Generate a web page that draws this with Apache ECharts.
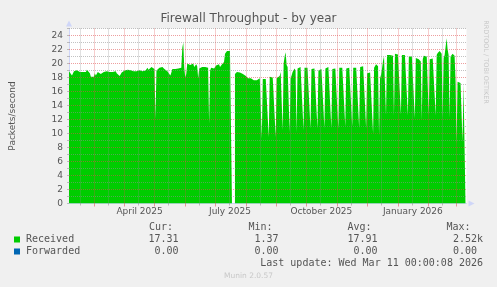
<!DOCTYPE html>
<html>
<head>
<meta charset="utf-8">
<script src="https://cdn.jsdelivr.net/npm/echarts@6/dist/echarts.min.js"></script>
<style>
html,body{margin:0;padding:0;background:#f0f0f0;}
#chart{width:497px;height:287px;}
</style>
</head>
<body>
<div id="chart"></div>
<script>
// ---- data ----
const ORIGIN = '2025-02-04';           // first day shown (x index 0)
const DAYS_SHOWN = 400;
// Received packets/second, one value per day from ORIGIN
const received = [
18.9,18.9,18.9,18.3,18.4,18.9,18.8,18.9,19.05,18.95,
19.05,18.8,18.7,18.9,18.8,18.9,19.0,18.8,19.1,19.2,
18.9,18.6,18.1,18.3,17.9,18.1,18.6,18.3,18.4,18.8,
18.9,18.7,18.5,18.6,18.7,18.8,18.9,18.7,18.9,19.0,
18.9,18.8,18.7,18.6,18.8,18.9,19.0,18.9,18.6,18.5,
18.7,18.2,18.3,18.7,18.9,18.9,19.0,19.05,19.05,19.1,
19.2,19.2,19.05,18.9,19.0,18.9,19.0,18.9,18.9,19.0,
19.1,19.05,19.2,19.2,18.9,18.9,18.9,19.0,19.1,19.4,
19.1,19.2,19.2,19.5,19.6,19.4,19.2,12.1,19.0,19.05,
19.05,19.4,19.4,19.4,19.5,19.5,19.2,19.05,19.05,18.9,
18.8,18.8,18.3,18.7,19.2,19.2,19.2,19.2,19.3,19.3,
19.3,19.4,19.4,19.4,22.2,23.0,19.4,18.0,18.5,20.0,
20.0,19.8,19.8,20.0,20.0,20.0,19.5,19.5,19.9,19.6,
17.9,19.3,19.5,19.5,19.5,19.6,19.5,19.5,19.4,19.4,
19.4,11.4,19.0,19.4,19.4,19.4,19.3,19.5,19.7,19.7,
19.9,19.9,19.5,19.5,19.9,19.9,20.2,21.4,21.6,21.8,
21.8,21.7,21.8,21.9,21.9,null,null,18.5,18.6,18.8,
18.9,18.9,18.7,18.6,18.6,18.5,18.3,18.3,18.2,18.0,
17.9,17.9,18.0,17.9,18.1,17.8,17.6,17.7,17.6,17.6,
17.7,17.6,17.9,17.9,9.3,17.8,17.9,17.9,17.8,17.9,
17.9,9.5,18.1,18.1,18.1,18.0,18.1,18.0,9.5,17.9,
17.9,17.9,18.2,18.8,18.8,10.5,20.0,21.0,21.6,19.8,
19.5,19.5,10.2,17.9,18.3,18.8,19.0,19.3,19.0,10.2,
19.3,19.4,19.5,19.5,19.4,19.4,10.5,19.4,19.5,19.5,
19.4,19.4,19.3,10.7,19.2,19.2,19.2,19.3,19.2,19.1,
10.7,19.0,19.1,19.1,19.2,19.1,19.0,10.8,19.3,19.4,
19.5,19.5,19.4,19.4,10.8,19.2,19.4,19.4,19.3,19.3,
19.2,10.7,19.4,19.5,19.5,19.4,19.2,19.3,11.0,19.3,
19.3,19.4,19.4,19.3,19.3,11.0,19.4,19.4,19.5,19.4,
19.4,19.3,10.8,19.5,19.7,19.7,19.6,19.5,19.4,10.8,
18.6,18.8,18.8,18.7,18.7,18.6,10.0,19.4,19.6,19.9,
20.0,19.6,9.8,17.9,18.4,19.3,20.4,21.0,21.0,12.6,
21.2,21.2,21.3,21.2,21.1,21.1,21.1,12.6,21.4,21.4,
21.5,21.3,21.2,21.2,12.7,21.2,21.3,21.2,21.2,21.1,
21.1,12.6,21.0,21.0,21.1,21.0,20.9,20.8,12.2,20.8,
21.0,20.8,20.6,20.5,20.3,12.0,20.6,21.1,21.1,21.0,
21.0,20.9,12.6,20.6,20.7,20.8,20.7,20.6,20.6,12.6,
21.2,21.5,21.6,21.8,21.7,21.4,12.2,20.8,21.2,21.3,
23.6,22.0,21.2,12.3,21.0,21.2,21.4,21.3,21.1,17.5,
8.6,17.4,17.4,17.3,17.2,17.2,8.8,17.1,17.2,17.3
];
// Forwarded packets/second (all zero)
const forwardedDays = [0, 399];
const forwardedValues = [0, 0];

const monthStarts = ['2025-03-01','2025-04-01','2025-05-01','2025-06-01','2025-07-01','2025-08-01',
  '2025-09-01','2025-10-01','2025-11-01','2025-12-01','2026-01-01','2026-02-01','2026-03-01'];
const midMonths = ['2025-02-15','2025-03-15','2025-04-15','2025-05-15','2025-06-15','2025-07-15','2025-08-15',
  '2025-09-15','2025-10-15','2025-11-15','2025-12-15','2026-01-15','2026-02-15'];
const xLabelDates = ['2025-04-16','2025-07-16','2025-10-16','2026-01-16'];
const xLabelTexts = ['April 2025','July 2025','October 2025','January 2026'];

const yMax = 25;
const yMajorLines = [2,4,6,8,10,12,14,16,18,20,22,24];
const yMinorLines = [1,3,5,7,9,11,13,15,17,19,21,23,25];

const titleText = 'Firewall Throughput - by year';
const yAxisTitle = 'Packets/second';
const statHeaders = ['Cur:','Min:','Avg:','Max:'];
const receivedStats = ['17.31','1.37','17.91','2.52k'];
const forwardedStats = ['0.00','0.00','0.00','0.00 '];
const lastUpdate = 'Last update: Wed Mar 11 00:00:08 2026';
const footer = 'Munin 2.0.57';
const sideText = 'RRDTOOL / TOBI OETIKER';

// ---- helpers ----
function dayIndex(s) {
  const p = s.split('-').map(Number), o = ORIGIN.split('-').map(Number);
  return Math.round((Date.UTC(p[0], p[1]-1, p[2]) - Date.UTC(o[0], o[1]-1, o[2])) / 86400000);
}
const monthDays = monthStarts.map(dayIndex);
const midDays = midMonths.map(dayIndex);
const labelDays = xLabelDates.map(dayIndex);
const labelMap = {};
labelDays.forEach((d, i) => { labelMap[d] = xLabelTexts[i]; });

const TXT = '#555';
const MAJOR = 'rgba(222,79,79,0.55)';
const MINOR = 'rgba(143,143,143,0.55)';
const AXIS = '#cfd6f8';

const gridMarks = []
  .concat(midDays.map(d => ({ xAxis: d, lineStyle: { color: MINOR } })))
  .concat(yMinorLines.map(v => ({ yAxis: v, lineStyle: { color: MINOR } })))
  .concat(monthDays.map(d => ({ xAxis: d, lineStyle: { color: MAJOR } })))
  .concat(yMajorLines.map(v => ({ yAxis: v, lineStyle: { color: MAJOR } })));

const colX = [173, 272.5, 371.5, 470.5];
const valX = [178.5, 278.5, 377.5, 483];
const graphics = [];
statHeaders.forEach((t, i) => graphics.push({ type: 'text', x: colX[i], y: 227,
  style: { text: t, font: '10px "DejaVu Sans Mono"', fill: TXT, align: 'right', verticalAlign: 'middle' } }));
receivedStats.forEach((t, i) => graphics.push({ type: 'text', x: valX[i], y: 239.5,
  style: { text: t, font: '10px "DejaVu Sans Mono"', fill: TXT, align: 'right', verticalAlign: 'middle' } }));
forwardedStats.forEach((t, i) => graphics.push({ type: 'text', x: valX[i], y: 251.5,
  style: { text: t, font: '10px "DejaVu Sans Mono"', fill: TXT, align: 'right', verticalAlign: 'middle' } }));
graphics.push({ type: 'text', x: 483, y: 263.3,
  style: { text: lastUpdate, font: '10px "DejaVu Sans Mono"', fill: TXT, align: 'right', verticalAlign: 'middle' } });
graphics.push({ type: 'text', x: 248.5, y: 276,
  style: { text: footer, font: '7.5px "DejaVu Sans"', fill: '#c8c8c8', align: 'center', verticalAlign: 'middle' } });
graphics.push({ type: 'text', x: 486, y: 62, rotation: -Math.PI / 2,
  style: { text: sideText, font: '6.5px "DejaVu Sans"', fill: '#c8c8c8', align: 'center', verticalAlign: 'middle' } });

const chart = echarts.init(document.getElementById('chart'), null, { renderer: 'canvas' });
chart.setOption({
  animation: false,
  backgroundColor: '#f0f0f0',
  title: {
    text: titleText, left: 'center', top: 13, padding: 0,
    textStyle: { fontFamily: 'DejaVu Sans', fontSize: 12, fontWeight: 'normal', color: TXT }
  },
  grid: { left: 66.5, right: 30.5, top: 28.5, bottom: 83.5, backgroundColor: '#ffffff', show: true, borderWidth: 0 },
  legend: {
    data: [{ name: 'Received', itemStyle: { color: '#00cc00' } }, { name: 'Forwarded', itemStyle: { color: '#0066b3' } }],
    orient: 'vertical', left: 14, top: 233.5, padding: 0, itemGap: 0, itemWidth: 6, itemHeight: 6,
    icon: 'rect', selectedMode: false,
    itemStyle: { borderWidth: 0 },
    textStyle: { fontFamily: 'DejaVu Sans Mono', fontSize: 10, color: TXT, lineHeight: 12, padding: [0, 0, 0, 1] }
  },
  xAxis: [{
    type: 'value', min: 0, max: DAYS_SHOWN, position: 'bottom',
    axisLine: { show: true, lineStyle: { color: AXIS, width: 1 }, symbol: ['none', 'triangle'], symbolSize: [6, 6], symbolOffset: [0, 5] },
    axisTick: { show: true, customValues: monthDays, length: 3, lineStyle: { color: MAJOR } },
    axisLabel: { show: true, customValues: labelDays, margin: 4, formatter: v => labelMap[v] || '',
      fontFamily: 'DejaVu Sans', fontSize: 9, color: TXT },
    splitLine: { show: false }
  }, {
    type: 'value', min: 0, max: DAYS_SHOWN, position: 'bottom',
    axisLine: { show: false },
    axisTick: { show: true, customValues: midDays, length: 2, lineStyle: { color: MINOR } },
    axisLabel: { show: false },
    splitLine: { show: false }
  }],
  yAxis: {
    type: 'value', min: 0, max: yMax, interval: 1,
    name: yAxisTitle, nameLocation: 'middle', nameGap: 52, nameRotate: 90,
    nameTextStyle: { fontFamily: 'DejaVu Sans', fontSize: 9, color: TXT },
    axisLine: { show: true, lineStyle: { color: AXIS, width: 1 }, symbol: ['none', 'triangle'], symbolSize: [6, 6], symbolOffset: [0, 5] },
    axisTick: { show: true, length: 2, lineStyle: { color: MINOR } },
    axisLabel: { margin: 6, fontFamily: 'DejaVu Sans', fontSize: 9, color: TXT,
      formatter: v => (v % 2 === 0 && v <= 24) ? String(v) : '' },
    splitLine: { show: false }
  },
  series: [{
    name: 'Received', type: 'line', xAxisIndex: 0, z: 2,
    data: received.map((v, i) => [i, v]),
    smooth: false, smoothMonotone: null,
    showSymbol: false, symbol: 'none', connectNulls: false, sampling: 'none',
    color: '#00cc00',
    lineStyle: { width: 0, color: '#00cc00' },
    areaStyle: { color: '#00cc00', opacity: 1 },
    emphasis: { disabled: true }
  }, {
    name: 'Forwarded', type: 'line', xAxisIndex: 0, z: 3,
    data: forwardedDays.map((d, i) => [d, forwardedValues[i]]),
    showSymbol: false, symbol: 'none',
    color: '#0066b3',
    lineStyle: { width: 0, color: '#0066b3' },
    emphasis: { disabled: true },
    markLine: {
      silent: true, symbol: ['none', 'none'], label: { show: false },
      lineStyle: { type: [1, 1], width: 1 },
      emphasis: { disabled: true },
      data: gridMarks
    }
  }],
  graphic: graphics
});
</script>
</body>
</html>
